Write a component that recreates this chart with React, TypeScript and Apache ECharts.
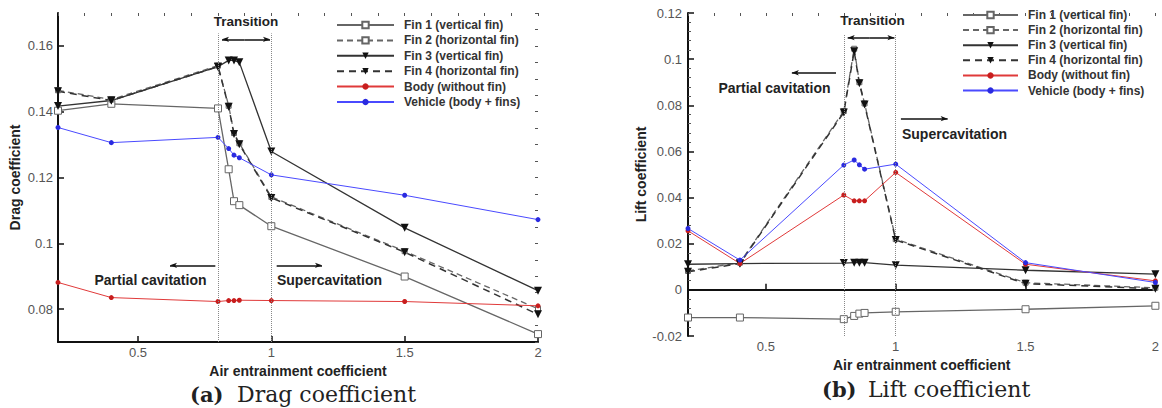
import React, { useEffect, useRef } from "react";
import * as echarts from "echarts";

const X = [0.2, 0.4, 0.8, 0.84, 0.86, 0.88, 1.0, 1.5, 2.0];
const NAMES = [
  "Fin 1 (vertical fin)",
  "Fin 2 (horizontal fin)",
  "Fin 3 (vertical fin)",
  "Fin 4 (horizontal fin)",
  "Body (without fin)",
  "Vehicle (body + fins)",
];

// Drag coefficient
const dragFin1 = [0.1403, 0.1424, 0.141, 0.1225, 0.1128, 0.1116, 0.1052, 0.0899, 0.0724];
const dragFin2 = [0.1465, 0.1437, 0.154, 0.1418, 0.1335, 0.1304, 0.1141, 0.0976, 0.0801];
const dragFin3 = [0.1417, 0.1434, 0.1537, 0.1556, 0.1556, 0.155, 0.1279, 0.1047, 0.0856];
const dragFin4 = [0.1462, 0.1434, 0.1537, 0.1415, 0.1332, 0.1301, 0.1138, 0.0973, 0.0784];
const dragBody = [0.0881, 0.0835, 0.0823, 0.0826, 0.0826, 0.0827, 0.0826, 0.0823, 0.081];
const dragVehicle = [0.1352, 0.1306, 0.1322, 0.1288, 0.1268, 0.126, 0.1208, 0.1146, 0.1072];

// Lift coefficient
const liftFin1 = [-0.012, -0.012, -0.0127, -0.0113, -0.0103, -0.01, -0.0095, -0.0084, -0.0069];
const liftFin2 = [0.0082, 0.0118, 0.0775, 0.1045, 0.09, 0.0808, 0.022, 0.0031, 0.0009];
const liftFin3 = [0.0111, 0.0114, 0.0116, 0.0118, 0.0118, 0.0118, 0.0107, 0.0085, 0.0068];
const liftFin4 = [0.0078, 0.0114, 0.0769, 0.1034, 0.0895, 0.0803, 0.0216, 0.0027, 0.0005];
const liftBody = [0.0256, 0.0114, 0.0411, 0.0386, 0.0386, 0.0386, 0.0509, 0.0111, 0.0039];
const liftVehicle = [0.0266, 0.0129, 0.0541, 0.0563, 0.0542, 0.0523, 0.0545, 0.0118, 0.0032];

const X_TICKS = [0.5, 1, 1.5, 2];
const DRAG_Y_TICKS = [0.08, 0.1, 0.12, 0.14, 0.16];

const FONT = "Liberation Sans, Arial, sans-serif";

const STYLES = [
  { line: { color: "#666", width: 1.3, type: "solid" }, symbol: "rect", size: 7, item: { color: "#fff", borderColor: "#666", borderWidth: 1 }, rotate: 0 },
  { line: { color: "#666", width: 1.3, type: [6, 4] }, symbol: "rect", size: 5, item: { color: "#fff", borderColor: "#666", borderWidth: 1 }, rotate: 0 },
  { line: { color: "#333", width: 1.3, type: "solid" }, symbol: "triangle", size: 8, item: { color: "#111" }, rotate: 180 },
  { line: { color: "#333", width: 1.5, type: [7, 5] }, symbol: "triangle", size: 8, item: { color: "#111" }, rotate: 180 },
  { line: { color: "#e03a3a", width: 1, type: "solid" }, symbol: "circle", size: 5, item: { color: "#c81e1e" }, rotate: 0 },
  { line: { color: "#4a4aff", width: 1, type: "solid" }, symbol: "circle", size: 5, item: { color: "#2a2ae0" }, rotate: 0 },
];

const fmt = (v: number) => String(parseFloat(v.toFixed(4)));

function xAxes(gridIndex: number, nameGap: number) {
  return [
    {
      type: "value",
      gridIndex,
      min: 0.2,
      max: 2,
      name: "Air entrainment coefficient",
      nameLocation: "middle",
      nameGap,
      nameTextStyle: { fontFamily: FONT, fontWeight: "bold", fontSize: 14, color: "#222" },
      axisLine: { lineStyle: { color: "#111", width: 2 } },
      axisTick: { inside: true, length: 6, customValues: X_TICKS, lineStyle: { color: "#111", width: 1.5 } },
      axisLabel: { customValues: X_TICKS, color: "#555", fontSize: 13, fontFamily: FONT, margin: 4, formatter: fmt },
      splitLine: { show: false },
    },
    {
      type: "value",
      gridIndex,
      min: 0.2,
      max: 2,
      interval: 0.1,
      axisLine: { show: false },
      axisTick: { inside: true, length: 3, lineStyle: { color: "#555", width: 1 } },
      axisLabel: { show: false },
      splitLine: { show: false },
    },
  ];
}

function seriesFor(xi: number, yi: number, arrays: number[][]) {
  return arrays.map((arr, i) => ({
    type: "line",
    name: NAMES[i],
    xAxisIndex: xi,
    yAxisIndex: yi,
    data: X.map((x, k) => [x, arr[k]]),
    symbol: STYLES[i].symbol,
    symbolSize: STYLES[i].size,
    symbolRotate: STYLES[i].rotate,
    showAllSymbol: true,
    lineStyle: STYLES[i].line,
    itemStyle: STYLES[i].item,
    emphasis: { disabled: true },
    z: 3,
  }));
}

function annotSeries(xi: number, yi: number, yTop: number, yBottom: number, arrows: number[][]) {
  return [
    {
      type: "line",
      name: "vlines",
      xAxisIndex: xi,
      yAxisIndex: yi,
      data: [],
      markLine: {
        silent: true,
        symbol: "none",
        label: { show: false },
        lineStyle: { type: "dotted", color: "#888", width: 1 },
        data: [
          [{ coord: [0.8, yBottom] }, { coord: [0.8, yTop] }],
          [{ coord: [1.0, yBottom] }, { coord: [1.0, yTop] }],
        ],
      },
    },
    {
      type: "line",
      name: "arrows",
      xAxisIndex: xi,
      yAxisIndex: yi,
      data: [],
      markLine: {
        silent: true,
        symbol: ["none", "arrow"],
        symbolSize: [4, 7],
        label: { show: false },
        lineStyle: { type: "solid", color: "#111", width: 1.5 },
        data: arrows.map((a) => [{ coord: [a[0], a[1]] }, { coord: [a[2], a[3]] }]),
      },
    },
  ];
}

function legend(left: number, top: number, w: number, gap: number) {
  return {
    orient: "vertical",
    left,
    top,
    itemWidth: w,
    itemHeight: 8,
    itemGap: gap,
    data: NAMES,
    selectedMode: false,
    textStyle: { fontFamily: FONT, fontWeight: "bold", fontSize: 12, color: "#333", lineHeight: 12, padding: [0, 0, 0, 5] },
  };
}

function txt(x: number, y: number, text: string, font: string, align = "center") {
  return {
    type: "text",
    x,
    y,
    silent: true,
    style: { text, font, fill: "#222", align, verticalAlign: "middle" },
  };
}

export default function App() {
  const ref = useRef<HTMLDivElement>(null);
  useEffect(() => {
    if (!ref.current) return;
    const chart = echarts.init(ref.current, null, { renderer: "svg" });
    const option: any = {
      animation: false,
      backgroundColor: "#fff",
      grid: [
        { left: 58, top: 13, width: 480, height: 329 },
        { left: 688, top: 13, width: 472, height: 323 },
      ],
      legend: [legend(331, 14, 57, 3.4), legend(957, 4, 55, 3.1)],
      xAxis: [...xAxes(0, 12), ...xAxes(1, 11)],
      yAxis: [
        {
          type: "value",
          gridIndex: 0,
          min: 0.07,
          max: 0.17,
          name: "Drag coefficient",
          nameLocation: "middle",
          nameGap: 36,
          nameTextStyle: { fontFamily: FONT, fontWeight: "bold", fontSize: 14, color: "#222" },
          axisLine: { show: true, lineStyle: { color: "#111", width: 2 } },
          axisTick: { show: true, inside: true, length: 6, customValues: DRAG_Y_TICKS, lineStyle: { color: "#111", width: 1.5 } },
          axisLabel: { customValues: DRAG_Y_TICKS, color: "#555", fontSize: 13, fontFamily: FONT, margin: 5, formatter: fmt },
          splitLine: { show: false },
        },
        {
          type: "value",
          gridIndex: 0,
          min: 0.07,
          max: 0.17,
          interval: 0.005,
          axisLine: { show: false },
          axisTick: { show: true, inside: true, length: 3, lineStyle: { color: "#555", width: 1 } },
          axisLabel: { show: false },
          splitLine: { show: false },
        },
        {
          type: "value",
          gridIndex: 1,
          min: -0.02,
          max: 0.12,
          interval: 0.02,
          name: "Lift coefficient",
          nameLocation: "middle",
          nameGap: 35,
          nameTextStyle: { fontFamily: FONT, fontWeight: "bold", fontSize: 14, color: "#222" },
          axisLine: { show: true, lineStyle: { color: "#111", width: 2 } },
          axisTick: { show: true, inside: true, length: 6, lineStyle: { color: "#111", width: 1.5 } },
          minorTick: { show: true, splitNumber: 5, length: 3, lineStyle: { color: "#555", width: 1 } },
          axisLabel: { color: "#555", fontSize: 13, fontFamily: FONT, margin: 6, formatter: fmt },
          splitLine: { show: false },
        },
      ],
      series: [
        ...annotSeries(0, 0, 0.1638, 0.07, [
          [0.9, 0.162, 0.815, 0.162],
          [0.9, 0.162, 0.995, 0.162],
          [0.79, 0.0933, 0.62, 0.0933],
          [1.02, 0.0933, 1.19, 0.0933],
        ]),
        ...seriesFor(0, 0, [dragFin1, dragFin2, dragFin3, dragFin4, dragBody, dragVehicle]),
        ...annotSeries(2, 2, 0.1105, -0.02, [
          [0.9, 0.1093, 0.815, 0.1093],
          [0.9, 0.1093, 0.995, 0.1093],
          [0.77, 0.0941, 0.6, 0.0941],
          [1.02, 0.0742, 1.2, 0.0742],
        ]),
        ...seriesFor(2, 2, [liftFin1, liftFin2, liftFin3, liftFin4, liftBody, liftVehicle]),
      ],
      graphic: [
        txt(246, 21, "Transition", `bold 13.5px ${FONT}`),
        txt(150.5, 280, "Partial cavitation", `bold 14px ${FONT}`),
        txt(329.5, 280, "Supercavitation", `bold 14px ${FONT}`),
        txt(872.5, 20, "Transition", `bold 13.5px ${FONT}`),
        txt(774.5, 88, "Partial cavitation", `bold 14px ${FONT}`),
        txt(954.5, 134, "Supercavitation", `bold 14px ${FONT}`),
        txt(190, 394, "(a)", `bold 21px "DejaVu Serif", serif`, "left"),
        txt(237, 394, "Drag coefficient", `22px "DejaVu Serif", serif`, "left"),
        txt(822, 389, "(b)", `bold 21px "DejaVu Serif", serif`, "left"),
        txt(868, 389, "Lift coefficient", `22px "DejaVu Serif", serif`, "left"),
      ],
    };
    chart.setOption(option);
    return () => chart.dispose();
  }, []);
  return (
    <div
      ref={ref}
      style={{ position: "fixed", left: 0, top: 0, width: 1162, height: 408, background: "#fff" }}
    />
  );
}
